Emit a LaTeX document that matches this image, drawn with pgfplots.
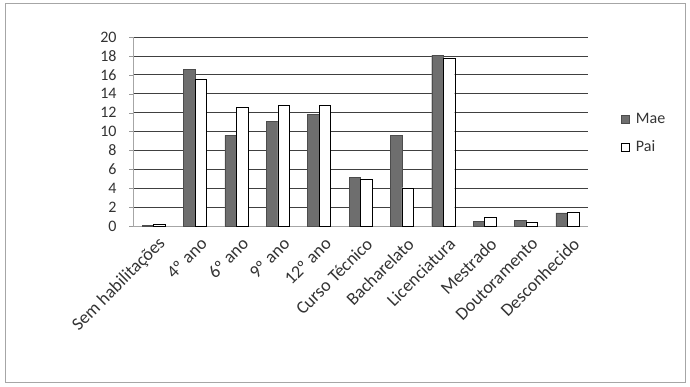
\documentclass[border=0pt]{standalone}
\usepackage{fontspec}
\setmainfont{Carlito}
\usepackage{pgfplots}
\pgfplotsset{compat=1.18}
\definecolor{txt}{HTML}{333333}
\definecolor{maefill}{HTML}{6E6E6E}
\begin{document}
\begin{tikzpicture}[x=1bp,y=1bp]
\useasboundingbox (0,0) rectangle (690,386);
\draw[gray!70, line width=0.8bp] (5,4) rectangle (685,383);
\begin{axis}[
  at={(133bp,160bp)}, anchor=south west,
  scale only axis, width=455bp, height=189bp,
  ymin=0, ymax=20, ytick={0,2,...,20},
  xmin=-0.5, xmax=10.5,
  xtick={0,...,10},
  xticklabels={Sem habilitações,4º ano,6º ano,9º ano,12º ano,Curso Técnico,Bacharelato,Licenciatura,Mestrado,Doutoramento,Desconhecido},
  xticklabel style={rotate=45, anchor=east, font=\fontsize{18bp}{20bp}\selectfont, text=txt, xshift=2bp, yshift=-14bp},
  yticklabel style={font=\fontsize{16bp}{18bp}\selectfont, text=txt, xshift=-9bp},
  /pgf/number format/assume math mode=true,
  major x tick style={draw=none},
  ytick style={gray!80},
  major tick length=4bp,
  tick align=outside,
  extra x ticks={-0.5,0.5,...,10.5},
  extra x tick labels={},
  extra x tick style={grid=none, major tick length=4bp, tick style={gray!80, draw=gray!80}},
  ymajorgrids, grid style={black!75, line width=0.7bp},
  axis x line*=bottom, axis y line*=left,
  axis line style={gray!70, line width=0.7bp},
  ybar, bar width=11.5bp,
  legend style={at={(1.065,0.62)}, anchor=north west, draw=none, fill=none,
    font=\fontsize{16bp}{18bp}\selectfont, text=txt, row sep=12bp},
  legend image code/.code={\draw[#1] (0bp,-4bp) rectangle (8bp,4bp);\path[draw=none,fill=none] (0bp,0bp) -- (13bp,0bp);},
  legend cell align=left,
]
\addplot[fill=maefill, draw=black!70, bar shift=-5.75bp] coordinates {
(0,0.1) (1,16.6) (2,9.6) (3,11.05) (4,11.8) (5,5.15) (6,9.6) (7,18.05) (8,0.5) (9,0.62) (10,1.38)};
\addplot[fill=white, draw=black, bar shift=5.75bp] coordinates {
(0,0.2) (1,15.55) (2,12.6) (3,12.75) (4,12.75) (5,4.95) (6,4.05) (7,17.8) (8,0.92) (9,0.38) (10,1.45)};
\legend{Mae,Pai}
\end{axis}
\end{tikzpicture}
\end{document}
